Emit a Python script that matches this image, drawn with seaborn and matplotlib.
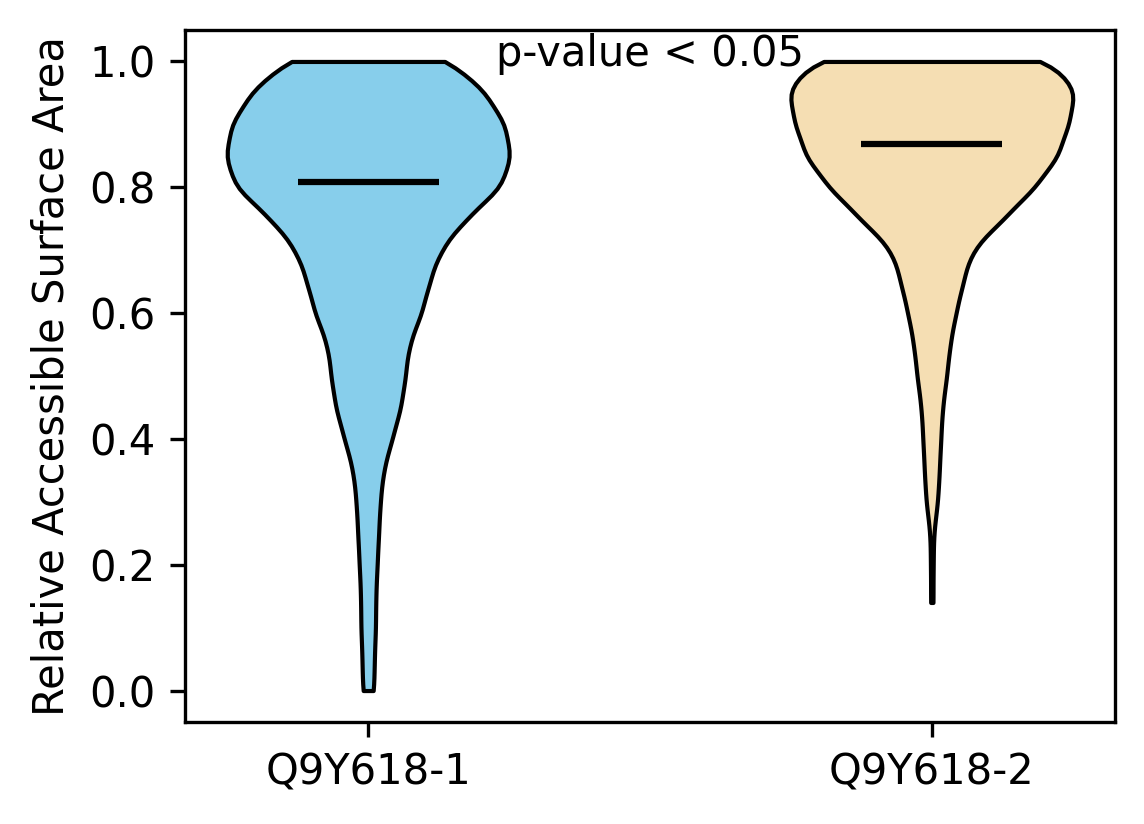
import numpy as np
import pandas as pd
import matplotlib
matplotlib.use("Agg")
import matplotlib.pyplot as plt
import seaborn as sns

# relative ASA values (binned) and how many residues fall on each value
isoforms = ["Q9Y618-1", "Q9Y618-2"]

rsa_iso1 = [0.00, 0.05, 0.10, 0.15, 0.20, 0.25, 0.30, 0.35, 0.40, 0.45, 0.50,
            0.55, 0.60, 0.65, 0.70, 0.75, 0.80, 0.85, 0.90, 0.95, 1.00]
count_iso1 = [4, 4, 5, 5, 6, 7, 8, 10, 16, 22, 25,
              27, 36, 41, 48, 65, 90, 96, 92, 79, 57]

rsa_iso2 = [0.14, 0.20, 0.25, 0.30, 0.35, 0.40, 0.45, 0.50, 0.55,
            0.60, 0.65, 0.70, 0.75, 0.80, 0.85, 0.90, 0.95, 1.00]
count_iso2 = [1, 1, 1, 4, 5, 6, 7, 10, 12,
              16, 21, 26, 48, 69, 85, 91, 97, 84]

medians = [0.808, 0.868]
colors = ["skyblue", "wheat"]

df = pd.DataFrame({
    "isoform": [isoforms[0]] * sum(count_iso1) + [isoforms[1]] * sum(count_iso2),
    "rsa": np.concatenate([np.repeat(rsa_iso1, count_iso1),
                           np.repeat(rsa_iso2, count_iso2)]),
})


def fixed_bw(kde):
    # same absolute bandwidth for both isoforms
    return 0.03 / np.std(kde.dataset, ddof=1)


fig, ax = plt.subplots(figsize=(1144 / 300, 824 / 300), dpi=300)
fig.subplots_adjust(left=185 / 1144, right=1115 / 1144,
                    top=1 - 30 / 824, bottom=1 - 722 / 824)

sns.violinplot(data=df, x="isoform", y="rsa", hue="isoform", palette=colors,
               order=isoforms, cut=0, inner=None, width=0.5, density_norm="width",
               bw_method=fixed_bw, linecolor="black", linewidth=1.0,
               saturation=1, legend=False, ax=ax)
for coll in ax.collections:
    coll.set_alpha(1)

ax.hlines(medians, [i - 0.125 for i in range(2)], [i + 0.125 for i in range(2)],
          color="black", linewidth=1.5, zorder=5)

ax.text(0.5, 0.9925, "p-value < 0.05", ha="center", va="baseline", fontsize=10)

ax.set_xlim(-0.325, 1.325)
ax.set_ylim(-0.05, 1.05)
ax.set_yticks([0.0, 0.2, 0.4, 0.6, 0.8, 1.0])
ax.set_xlabel("")
ax.set_ylabel("Relative Accessible Surface Area", fontsize=10)
ax.tick_params(labelsize=10)

fig.savefig("out.png", dpi=300, facecolor="white")
